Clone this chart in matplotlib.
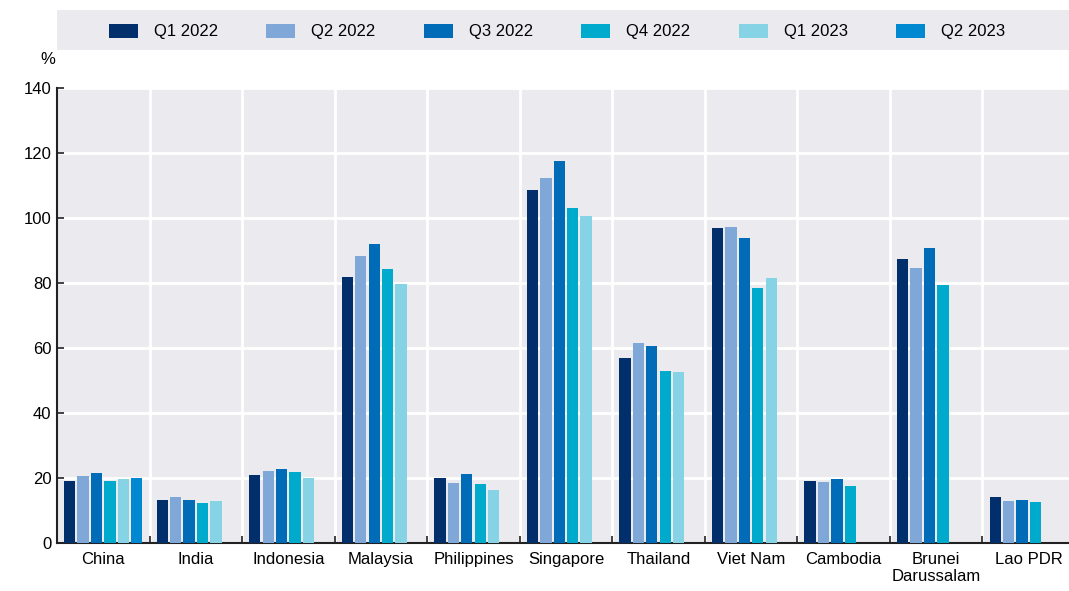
import matplotlib
matplotlib.use("Agg")
import matplotlib.pyplot as plt
from matplotlib.patches import Rectangle
from matplotlib import font_manager
import numpy as np

countries = ["China", "India", "Indonesia", "Malaysia", "Philippines", "Singapore",
             "Thailand", "Viet Nam", "Cambodia", "Brunei\nDarussalam", "Lao PDR"]
series = ["Q1 2022", "Q2 2022", "Q3 2022", "Q4 2022", "Q1 2023", "Q2 2023"]
nan = np.nan
q1_2022 = [19.2, 13.3, 20.9, 81.8, 20.1, 108.5, 57.0, 96.9, 19.1, 87.3, 14.1]
q2_2022 = [20.6, 14.1, 22.2, 88.3, 18.5, 112.2, 61.6, 97.2, 18.9, 84.5, 12.9]
q3_2022 = [21.6, 13.3, 23.0, 92.0, 21.3, 117.7, 60.6, 93.8, 19.8, 90.9, 13.3]
q4_2022 = [19.1, 12.3, 22.0, 84.3, 18.2, 103.2, 53.0, 78.5, 17.6, 79.3, 12.7]
q1_2023 = [19.9, 12.9, 20.1, 79.7, 16.4, 100.6, 52.6, 81.7, nan, nan, nan]
q2_2023 = [20.0, nan, nan, nan, nan, nan, nan, nan, nan, nan, nan]
values = [q1_2022, q2_2022, q3_2022, q4_2022, q1_2023, q2_2023]
colors = ["#002F6C", "#7FA8D9", "#006BB6", "#00AACC", "#86D3E6", "#0089D0"]
yticks = [0, 20, 40, 60, 80, 100, 120, 140]

fams = [f.name for f in font_manager.fontManager.ttflist]
fam = "Liberation Sans Narrow" if "Liberation Sans Narrow" in fams else "Liberation Sans"
plt.rcParams["font.family"] = [fam, "DejaVu Sans"]
fs = 12.5 if fam == "Liberation Sans Narrow" else 12

W, H = 1069, 591
fig = plt.figure(figsize=(W / 100, H / 100), dpi=100)
bg = "#EBEBEF"
ax = fig.add_axes([57 / W, (H - 543.3) / H, (1075 - 57) / W, (543.3 - 88) / H])
ax.set_facecolor(bg)

x = np.arange(len(countries))
stride = 0.145
bw = 0.122
for i, (name, vals, c) in enumerate(zip(series, values, colors)):
    ax.bar(x + (i - 2.5) * stride, vals, width=bw, color=c, label=name,
           edgecolor="none", zorder=3)

ax.set_xlim(-0.5, len(countries) - 0.5)
ax.set_ylim(0, 140)
ax.set_yticks(yticks)
ax.set_xticks(x)
ax.set_xticklabels(countries, fontsize=fs)
ax.tick_params(axis="x", length=0, pad=6)
ax.set_xticks(np.arange(0.5, len(countries) - 0.5), minor=True)
ax.tick_params(axis="x", which="minor", direction="in", length=5, width=1.2, color="#222222")
ax.tick_params(axis="y", direction="in", length=5, width=1.2, color="#222222", labelsize=fs, pad=4)
ax.grid(axis="y", color="white", linewidth=2, zorder=1)
ax.grid(axis="x", which="minor", color="white", linewidth=2, zorder=1)
ax.grid(axis="x", which="major", visible=False)
ax.set_axisbelow(True)
for s in ["top", "right"]:
    ax.spines[s].set_visible(False)
ax.spines["left"].set_linewidth(1.5)
ax.spines["bottom"].set_linewidth(1.5)
ax.spines["left"].set_color("#222222")
ax.spines["bottom"].set_color("#222222")

fig.text(40 / W, 1 - 60 / H, "%", fontsize=fs, ha="left", va="center")

fig.patches.append(Rectangle((57 / W, 1 - 50 / H), (W - 57) / W, 40 / H,
                             transform=fig.transFigure, facecolor=bg, edgecolor="none", zorder=0))
handles, labels = ax.get_legend_handles_labels()
leg = fig.legend(handles, labels, loc="center", bbox_to_anchor=(557 / W, 1 - 31.5 / H),
                 ncol=6, frameon=False, fontsize=fs, handlelength=1.75, handleheight=0.9,
                 columnspacing=2.9, handletextpad=0.95)

fig.savefig("out.png", dpi=100)
